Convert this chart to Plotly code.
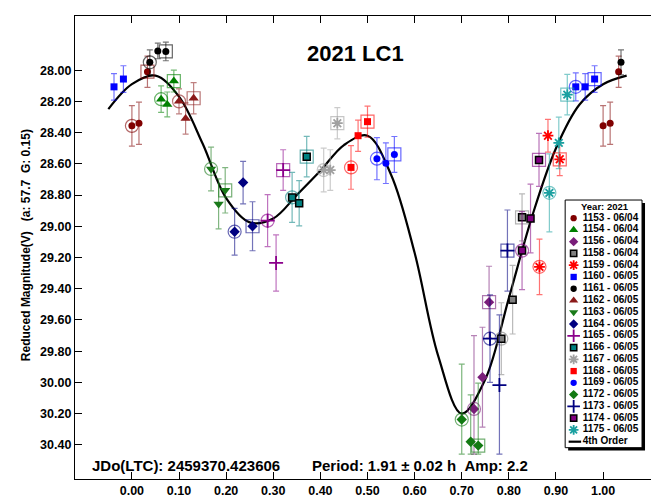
import plotly.graph_objects as go

# ---------------- data ----------------
session_ids = ["1153", "1154", "1156", "1158", "1159", "1160", "1161", "1162", "1163", "1164",
               "1165", "1166", "1167", "1168", "1169", "1172", "1173", "1174", "1175"]
session_dates = ["06/04", "06/04", "06/04", "06/04", "06/04", "06/05", "06/05", "06/05", "06/05", "06/05",
                 "06/05", "06/05", "06/05", "06/05", "06/05", "06/05", "06/05", "06/05", "06/05"]

phase_1153 = [0.000, 0.015, 0.033]; mag_1153 = [28.357, 28.340, 28.010]; err_1153 = [0.13, 0.135, 0.10]
phase_1154 = [0.062, 0.075, 0.089]; mag_1154 = [28.186, 28.220, 28.070]; err_1154 = [0.085, 0.08, 0.07]
phase_1156 = [0.726, 0.744, 0.758]; mag_1156 = [30.170, 29.967, 29.486]; err_1156 = [0.47, 0.32, 0.23]
phase_1158 = [0.784, 0.808, 0.828]; mag_1158 = [29.720, 29.470, 28.943]; err_1158 = [0.23, 0.22, 0.15]
phase_1159 = [0.865, 0.883, 0.908]; mag_1159 = [29.260, 28.420, 28.571]; err_1159 = [0.178, 0.105, 0.105]
phase_1160 = [0.942, 0.962, 0.982]; mag_1160 = [28.107, 28.107, 28.057]; err_1160 = [0.09, 0.085, 0.085]
phase_1161 = [0.038, 0.055, 0.072]; mag_1161 = [27.950, 27.877, 27.880]; err_1161 = [0.08, 0.05, 0.06]
phase_1162 = [0.100, 0.114, 0.131]; mag_1162 = [28.200, 28.310, 28.180]; err_1162 = [0.08, 0.10, 0.10]
phase_1163 = [0.168, 0.184, 0.198]; mag_1163 = [28.633, 28.857, 28.770]; err_1163 = [0.14, 0.16, 0.145]
phase_1164 = [0.218, 0.236, 0.256]; mag_1164 = [29.035, 28.720, 29.000]; err_1164 = [0.15, 0.136, 0.157]
phase_1165 = [0.288, 0.306, 0.321]; mag_1165 = [28.964, 29.235, 28.640]; err_1165 = [0.167, 0.18, 0.13]
phase_1166 = [0.340, 0.355, 0.371]; mag_1166 = [28.815, 28.853, 28.554]; err_1166 = [0.16, 0.145, 0.13]
phase_1167 = [0.407, 0.421, 0.436]; mag_1167 = [28.640, 28.640, 28.340]; err_1167 = [0.14, 0.13, 0.10]
phase_1168 = [0.465, 0.480, 0.500]; mag_1168 = [28.623, 28.420, 28.330]; err_1168 = [0.14, 0.10, 0.10]
phase_1169 = [0.520, 0.539, 0.557]; mag_1169 = [28.567, 28.596, 28.540]; err_1169 = [0.135, 0.13, 0.115]
phase_1172 = [0.700, 0.719, 0.735]; mag_1172 = [30.238, 30.380, 30.405]; err_1172 = [0.355, 0.30, 0.40]
phase_1173 = [0.760, 0.780, 0.797]; mag_1173 = [29.720, 30.017, 29.156]; err_1173 = [0.28, 0.45, 0.26]
phase_1174 = [0.828, 0.846, 0.864]; mag_1174 = [29.156, 28.950, 28.575]; err_1174 = [0.25, 0.22, 0.17]
phase_1175 = [0.886, 0.906, 0.924]; mag_1175 = [28.786, 28.466, 28.157]; err_1175 = [0.25, 0.165, 0.13]

# 4th order Fourier fit
curve_phase = [-0.05, 0.00, 0.05, 0.10, 0.15, 0.20, 0.25, 0.30, 0.35, 0.40, 0.45, 0.50,
               0.55, 0.60, 0.65, 0.70, 0.75, 0.80, 0.85, 0.90, 0.95, 1.00, 1.05]
curve_mag = [28.25, 28.09, 28.035, 28.17, 28.47, 28.82, 28.975, 28.95, 28.80, 28.645, 28.48, 28.42,
             28.67, 29.17, 29.83, 30.20, 29.98, 29.46, 28.93, 28.50, 28.22, 28.09, 28.035]

x_ticks = [0.0, 0.1, 0.2, 0.3, 0.4, 0.5, 0.6, 0.7, 0.8, 0.9, 1.0]
y_ticks = [28.0, 28.2, 28.4, 28.6, 28.8, 29.0, 29.2, 29.4, 29.6, 29.8, 30.0, 30.2, 30.4]

all_phase = [phase_1153, phase_1154, phase_1156, phase_1158, phase_1159, phase_1160, phase_1161,
             phase_1162, phase_1163, phase_1164, phase_1165, phase_1166, phase_1167, phase_1168,
             phase_1169, phase_1172, phase_1173, phase_1174, phase_1175]
all_mag = [mag_1153, mag_1154, mag_1156, mag_1158, mag_1159, mag_1160, mag_1161,
           mag_1162, mag_1163, mag_1164, mag_1165, mag_1166, mag_1167, mag_1168,
           mag_1169, mag_1172, mag_1173, mag_1174, mag_1175]
all_err = [err_1153, err_1154, err_1156, err_1158, err_1159, err_1160, err_1161,
           err_1162, err_1163, err_1164, err_1165, err_1166, err_1167, err_1168,
           err_1169, err_1172, err_1173, err_1174, err_1175]

# ---------------- styles ----------------
FONT = "Liberation Sans, Arial, sans-serif"
styles = {
    "1153": ("circle", "#800000", None, 7),
    "1154": ("triangle-up", "#008000", None, 9),
    "1156": ("diamond", "#7A1E7A", None, 8),
    "1158": ("square", "#808080", "#000000", 7),
    "1159": ("asterisk", "#FF0000", "line", 9),
    "1160": ("square", "#0000FF", None, 7),
    "1161": ("circle", "#000000", None, 7),
    "1162": ("triangle-up", "#8B1A1A", None, 9),
    "1163": ("triangle-down", "#1A7A1A", None, 9),
    "1164": ("diamond", "#000080", None, 8),
    "1165": ("cross-thin", "#8B008B", "line", 10),
    "1166": ("square", "#008080", "#000000", 7),
    "1167": ("asterisk", "#A0A0A0", "line", 9),
    "1168": ("square", "#FF0000", None, 7),
    "1169": ("circle", "#0000FF", None, 7),
    "1172": ("diamond", "#127A12", None, 8),
    "1173": ("cross-thin", "#000080", "line", 10),
    "1174": ("square", "#800080", "#000000", 7),
    "1175": ("asterisk", "#1AA0A0", "line", 9),
}


def light(hexcol, a=0.55):
    h = hexcol.lstrip("#")
    r, g, b = int(h[0:2], 16), int(h[2:4], 16), int(h[4:6], 16)
    return f"rgba({r},{g},{b},{a})"


def marker_dict(sid, size_scale=1.0):
    sym, col, line, size = styles[sid]
    if line == "line":
        return dict(symbol=sym, size=size * size_scale, color=col, line=dict(color=col, width=1.8))
    if line:
        return dict(symbol=sym, size=size * size_scale, color=col, line=dict(color=line, width=1.5))
    return dict(symbol=sym, size=size * size_scale, color=col, line=dict(width=0))


ERR_CLIP = 30.46
fig = go.Figure()

# fit curve
fig.add_trace(go.Scatter(x=curve_phase, y=curve_mag, mode="lines",
                         line=dict(color="black", width=2.2, shape="spline", smoothing=1.0),
                         hoverinfo="skip"))

for sid, ph, mg, er in zip(session_ids, all_phase, all_mag, all_err):
    col = styles[sid][1]
    # wrap phases into [-0.05, 1.05]
    xs, ys, es = list(ph), list(mg), list(er)
    for p, m, e in zip(ph, mg, er):
        if p >= 0.95:
            xs.append(p - 1.0); ys.append(m); es.append(e)
        if p < 0.05:
            xs.append(p + 1.0); ys.append(m); es.append(e)
    plus = [min(e, ERR_CLIP - y) for y, e in zip(ys, es)]
    # rings around first / last point of the session
    fig.add_trace(go.Scatter(x=[ph[0]], y=[mg[0]], mode="markers",
                             marker=dict(symbol="circle-open", size=13, color=light(col, 0.6),
                                         line=dict(width=1.2, color=light(col, 0.6))),
                             hoverinfo="skip"))
    fig.add_trace(go.Scatter(x=[ph[-1]], y=[mg[-1]], mode="markers",
                             marker=dict(symbol="square-open", size=13, color=light(col, 0.6),
                                         line=dict(width=1.2, color=light(col, 0.6))),
                             hoverinfo="skip"))
    fig.add_trace(go.Scatter(x=xs, y=ys, mode="markers", marker=marker_dict(sid),
                             error_y=dict(type="data", symmetric=False, array=plus, arrayminus=es,
                                          color=light(col, 0.55), thickness=1.2, width=3),
                             name=f"{sid} - {session_dates[session_ids.index(sid)]}"))

# ---------------- manual legend (pixel space overlay axes) ----------------
PX_L, PX_R, PX_T, PX_B = 67, 652, 7, 480
LEG_X0, LEG_X1, LEG_Y0, LEG_Y1 = 558, 635, 195, 448
ITEM_Y0, ITEM_STEP = 213.5, 12.02
MARK_X, TEXT_X = 566.5, 575.5

shapes = [
    dict(type="rect", xref="x2", yref="y2", x0=LEG_X0 + 3, x1=LEG_X1 + 3, y0=LEG_Y0 + 3, y1=LEG_Y1 + 3,
         fillcolor="black", line=dict(width=0), layer="below"),
    dict(type="rect", xref="x2", yref="y2", x0=LEG_X0, x1=LEG_X1, y0=LEG_Y0, y1=LEG_Y1,
         fillcolor="white", line=dict(color="black", width=1), layer="below"),
]
leg_labels = []
for i, sid in enumerate(session_ids):
    yy = ITEM_Y0 + ITEM_STEP * i
    fig.add_trace(go.Scatter(x=[MARK_X], y=[yy], xaxis="x2", yaxis="y2", mode="markers",
                             marker=marker_dict(sid, 0.9), hoverinfo="skip"))
    leg_labels.append((yy, f"<b>{sid} - {session_dates[i]}</b>"))
yline = ITEM_Y0 + ITEM_STEP * len(session_ids)
shapes.append(dict(type="line", xref="x2", yref="y2", x0=561.5, x1=574, y0=yline, y1=yline,
                   line=dict(color="black", width=2.2)))
leg_labels.append((yline, "<b>4th Order</b>"))
fig.add_trace(go.Scatter(x=[TEXT_X] * len(leg_labels), y=[v[0] for v in leg_labels],
                         text=[v[1] for v in leg_labels], xaxis="x2", yaxis="y2", mode="text",
                         textposition="middle right",
                         textfont=dict(family=FONT, size=10, color="black"), hoverinfo="skip"))

annotations = [
    dict(xref="x2", yref="y2", x=(LEG_X0 + LEG_X1) / 2 + 1, y=201.5, text="<b>Year: 2021</b>",
         showarrow=False, font=dict(family=FONT, size=9.5, color="black"), xanchor="center", yanchor="middle"),
    dict(xref="x2", yref="y2", x=348, y=45.5, text="<b>2021 LC1</b>", showarrow=False,
         font=dict(family=FONT, size=22, color="black"), xanchor="center", yanchor="middle"),
    dict(xref="x2", yref="y2", x=82, y=466, text="<b>JDo(LTC): 2459370.423606</b>", showarrow=False,
         font=dict(family=FONT, size=15, color="black"), xanchor="left", yanchor="middle"),
    dict(xref="x2", yref="y2", x=302, y=466, text="<b>Period: 1.91 ± 0.02 h\u00a0\u00a0Amp: 2.2</b>",
         showarrow=False, font=dict(family=FONT, size=15, color="black"), xanchor="left", yanchor="middle"),
    dict(xref="paper", yref="paper", x=(18 - PX_L) / (PX_R - PX_L), y=(PX_B - 241) / (PX_B - PX_T),
         text="<b>Reduced Magnitude(V)\u00a0\u00a0\u00a0(a: 57.7\u00a0\u00a0G: 0.15)</b>", textangle=-90,
         showarrow=False, font=dict(family=FONT, size=12, color="black"), xanchor="center", yanchor="middle"),
]

# axis ranges from pixel calibration: phase 0 at px 124, 0.1 per 47.2 px; 28.00 at py 62.3, 159.5 px/mag
x_lo = (PX_L - 124) / 472.0
x_hi = (PX_R - 124) / 472.0
y_top = 28.0 + (PX_T - 62.3) / 159.5
y_bot = 28.0 + (PX_B - 62.3) / 159.5

axis_common = dict(showgrid=False, zeroline=False, showline=True, linecolor="black", linewidth=1.2,
                   ticks="inside", ticklen=7, tickcolor="black", mirror="ticks",
                   tickfont=dict(family=FONT, size=12.5, color="black"))

fig.update_layout(
    width=659, height=497,
    margin=dict(l=PX_L, r=659 - PX_R, t=PX_T, b=497 - PX_B),
    paper_bgcolor="white", plot_bgcolor="white", showlegend=False,
    font=dict(family=FONT, color="black"),
    xaxis=dict(range=[x_lo, x_hi], tickvals=x_ticks, ticktext=[f"<b>{v:.2f}</b>" for v in x_ticks],
               **axis_common),
    yaxis=dict(range=[y_bot, y_top], tickvals=y_ticks, ticktext=[f"<b>{v:.2f}</b>" for v in y_ticks],
               **axis_common),
    xaxis2=dict(overlaying="x", range=[PX_L, PX_R], visible=False, anchor="y2"),
    yaxis2=dict(overlaying="y", range=[PX_B, PX_T], visible=False, anchor="x2"),
    shapes=shapes,
    annotations=annotations,
)

fig.write_html("out.html")
